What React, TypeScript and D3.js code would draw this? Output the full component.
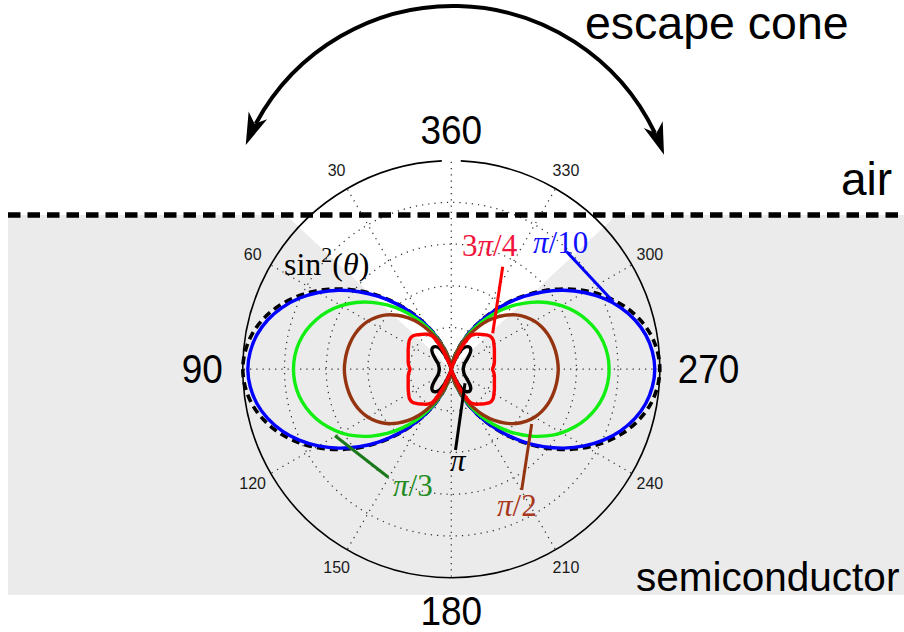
import React from 'react';
import * as d3 from 'd3';

// Polar angle (degrees from the 360 direction) at which one quadrant of every pattern is sampled.
// Each emission pattern is symmetric about both the vertical and the horizontal axis.
const quadrantAngles = [0, 5, 10, 15, 20, 25, 30, 35, 40, 45, 50, 55, 60, 65, 70, 75, 80, 85, 90];

// Normalised emitted intensity for each case, same sampling as quadrantAngles.
const sinSquared = [0, 0.008, 0.030, 0.067, 0.117, 0.179, 0.250, 0.329, 0.413, 0.500, 0.587, 0.671, 0.750, 0.821, 0.883, 0.933, 0.970, 0.992, 1.000];
const piOver10 = [0, 0.008, 0.030, 0.067, 0.117, 0.178, 0.249, 0.326, 0.409, 0.494, 0.578, 0.660, 0.736, 0.805, 0.864, 0.912, 0.947, 0.968, 0.976];
const piOver3 = [0, 0.008, 0.030, 0.066, 0.113, 0.170, 0.234, 0.301, 0.369, 0.436, 0.499, 0.558, 0.610, 0.654, 0.691, 0.720, 0.741, 0.753, 0.757];
const piOver2 = [0, 0.008, 0.030, 0.064, 0.109, 0.160, 0.212, 0.270, 0.321, 0.366, 0.405, 0.436, 0.461, 0.479, 0.492, 0.501, 0.507, 0.511, 0.513];
const threePiOver4 = [0, 0, 0.002, 0.008, 0.030, 0.110, 0.185, 0.205, 0.218, 0.233, 0.245, 0.245, 0.236, 0.228, 0.220, 0.214, 0.210, 0.205, 0.198];
const piPhase = [0, 0, 0.002, 0.008, 0.030, 0.080, 0.118, 0.132, 0.137, 0.132, 0.117, 0.098, 0.083, 0.072, 0.066, 0.062, 0.060, 0.058, 0.057];

// Polar grid
const radialTicks = [0.2, 0.4, 0.6, 0.8];
const angleTicks = [0, 30, 60, 90, 120, 150, 180, 210, 240, 270, 300, 330];
const angleTickLabels = ['360', '30', '60', '90', '120', '150', '180', '210', '240', '270', '300', '330'];
const majorAngles = [0, 90, 180, 270];

// Half-angle of the escape cone (degrees from the surface normal)
const coneHalfAngle = 47;

const W = 904;
const H = 632;
const cx = 451.3;
const cy = 369.2;
const R = 208.5;
const interfaceY = 215;
const sans = "'Liberation Sans', Arial, Helvetica, sans-serif";
const serif = "'Liberation Serif', 'Times New Roman', serif";

const rScale = d3.scaleLinear().domain([0, 1]).range([0, R]);

type Pt = [number, number];

// Unfold a sampled quadrant into the full 0..360 pattern.
function fullPattern(q: number[]): Pt[] {
  const pts: Pt[] = [];
  const n = quadrantAngles.length;
  for (let i = 0; i < n; i++) pts.push([quadrantAngles[i], q[i]]);
  for (let i = n - 2; i >= 0; i--) pts.push([180 - quadrantAngles[i], q[i]]);
  for (let i = 1; i < n; i++) pts.push([180 + quadrantAngles[i], q[i]]);
  for (let i = n - 2; i >= 1; i--) pts.push([360 - quadrantAngles[i], q[i]]);
  return pts;
}

// Angles run counter-clockwise from the top of the plot.
const radialLine = d3
  .lineRadial<Pt>()
  .angle((d) => (-d[0] * Math.PI) / 180)
  .radius((d) => rScale(d[1]))
  .curve(d3.curveCatmullRomClosed.alpha(0.5));

function polar(deg: number, radius: number): Pt {
  const a = (deg * Math.PI) / 180;
  return [cx - radius * Math.sin(a), cy - radius * Math.cos(a)];
}

const series = [
  { key: 'sin2', values: sinSquared, color: '#000000', dash: '8 5' },
  { key: 'pi10', values: piOver10, color: '#0000ff', dash: undefined },
  { key: 'pi3', values: piOver3, color: '#11ee11', dash: undefined },
  { key: 'pi2', values: piOver2, color: '#953410', dash: undefined },
  { key: 'pi', values: piPhase, color: '#000000', dash: undefined },
  { key: '3pi4', values: threePiOver4, color: '#ff0000', dash: undefined },
];

// Arc with arrowheads over the escape cone
const arrowC: Pt = [453, 230];
const arrowR = 224;
const arrowStart = 202.3;
const arrowEnd = 340.4;

function arrowHead(angleDeg: number, dir: 1 | -1) {
  const a = (angleDeg * Math.PI) / 180;
  const tip: Pt = [arrowC[0] + arrowR * Math.cos(a), arrowC[1] + arrowR * Math.sin(a)];
  // tangent pointing away from the arc
  const u: Pt = dir === -1 ? [Math.sin(a), -Math.cos(a)] : [-Math.sin(a), Math.cos(a)];
  const nrm: Pt = [-u[1], u[0]];
  const L = 32;
  const hw = 10;
  const b1: Pt = [tip[0] - L * u[0] + hw * nrm[0], tip[1] - L * u[1] + hw * nrm[1]];
  const b2: Pt = [tip[0] - L * u[0] - hw * nrm[0], tip[1] - L * u[1] - hw * nrm[1]];
  const notch: Pt = [tip[0] - 0.72 * L * u[0], tip[1] - 0.72 * L * u[1]];
  return `M${tip[0]},${tip[1]}L${b1[0]},${b1[1]}L${notch[0]},${notch[1]}L${b2[0]},${b2[1]}Z`;
}

function arcPath() {
  const p = d3.path();
  const a0 = ((arrowStart + 6) * Math.PI) / 180;
  const a1 = ((arrowEnd - 6) * Math.PI) / 180;
  p.moveTo(arrowC[0] + arrowR * Math.cos(a0), arrowC[1] + arrowR * Math.sin(a0));
  p.arc(arrowC[0], arrowC[1], arrowR, a0, a1, false);
  return p.toString();
}

function outerCirclePath() {
  // small break at the top where the 360 label sits
  const gap = 2.6;
  const a0 = ((-90 + gap) * Math.PI) / 180;
  const a1 = ((270 - gap) * Math.PI) / 180;
  const p = d3.path();
  p.moveTo(cx + R * Math.cos(a0), cy + R * Math.sin(a0));
  p.arc(cx, cy, R, a0, a1, false);
  return p.toString();
}

const Stretched: React.FC<{ x: number; y: number; size: number; anchor?: string; children: React.ReactNode; sy?: number }> = ({ x, y, size, anchor = 'start', children, sy = 1.08 }) => (
  <text
    transform={`translate(${x},${y}) scale(1,${sy})`}
    fontFamily={sans}
    fontSize={size}
    textAnchor={anchor as any}
    fill="#000"
  >
    {children}
  </text>
);

export default function App() {
  const coneDx = (cy - interfaceY) * Math.tan((coneHalfAngle * Math.PI) / 180);
  const dotted = { stroke: '#333333', strokeWidth: 1.25, strokeDasharray: '1.25 5', fill: 'none' };

  return (
    <svg
      width={W}
      height={H}
      viewBox={`0 0 ${W} ${H}`}
      style={{ position: 'absolute', left: 0, top: 0, background: '#fff' }}
    >
      {/* semiconductor region with the escape cone left open */}
      <rect x={8} y={interfaceY} width={W - 8} height={595 - interfaceY} fill="#ebebeb" />
      <polygon
        points={`${cx},${cy} ${cx - coneDx},${interfaceY} ${cx + coneDx},${interfaceY}`}
        fill="#ffffff"
      />

      {/* polar grid */}
      <g>
        {radialTicks.map((t) => (
          <circle key={t} cx={cx} cy={cy} r={rScale(t)} {...dotted} />
        ))}
        {angleTicks.map((a) => {
          const [x, y] = polar(a, R);
          return <line key={a} x1={cx} y1={cy} x2={x} y2={y} {...dotted} />;
        })}
        <path d={outerCirclePath()} fill="none" stroke="#000" strokeWidth={1.6} />
      </g>

      {/* angle labels */}
      <g>
        {angleTicks.map((a, i) => {
          if (majorAngles.includes(a)) return null;
          const [x, y] = polar(a, 1.1 * R);
          return (
            <text
              key={a}
              x={x}
              y={y + 5.6}
              fontFamily={sans}
              fontSize={16}
              textAnchor="middle"
              fill="#1a1a1a"
            >
              {angleTickLabels[i]}
            </text>
          );
        })}
        <Stretched x={cx} y={cy - 1.1 * R + 4} size={37} anchor="middle">
          {angleTickLabels[0]}
        </Stretched>
        <Stretched x={cx - 1.1 * R + 1} y={cy + 14} size={37} anchor="end">
          {angleTickLabels[3]}
        </Stretched>
        <Stretched x={cx} y={cy + 1.1 * R + 26} size={37} anchor="middle">
          {angleTickLabels[6]}
        </Stretched>
        <Stretched x={cx + 1.1 * R - 3} y={cy + 14} size={37} anchor="start">
          {angleTickLabels[9]}
        </Stretched>
      </g>

      {/* emission patterns */}
      <g transform={`translate(${cx},${cy})`}>
        {series.map((s) => (
          <path
            key={s.key}
            d={radialLine(fullPattern(s.values)) || ''}
            fill="none"
            stroke={s.color}
            strokeWidth={s.dash ? 3.6 : 3.4}
            strokeDasharray={s.dash}
            strokeLinejoin="round"
          />
        ))}
      </g>

      {/* air / semiconductor interface */}
      <line x1={8} y1={interfaceY} x2={W} y2={interfaceY} stroke="#000" strokeWidth={5.5} strokeDasharray="12.5 7" />

      {/* escape cone arrow */}
      <path d={arcPath()} fill="none" stroke="#000" strokeWidth={4} />
      <path d={arrowHead(arrowStart, -1)} fill="#000" />
      <path d={arrowHead(arrowEnd, 1)} fill="#000" />

      <text x={585} y={39} fontFamily={sans} fontSize={46.5} fill="#000">escape cone</text>
      <text x={841} y={195} fontFamily={sans} fontSize={46} fill="#000">air</text>
      <text x={636} y={591} fontFamily={sans} fontSize={40.5} fill="#000">semiconductor</text>

      {/* curve annotations */}
      <g strokeWidth={3} fill="none">
        <line x1={566.7} y1={251.7} x2={613.3} y2={301.7} stroke="#0000ff" />
        <line x1={502.7} y1={266.7} x2={492.7} y2={333.3} stroke="#ff0000" />
        <line x1={335} y1={435.7} x2={388.3} y2={477.3} stroke="#1a7a1a" />
        <line x1={531.7} y1={424} x2={521.7} y2={490} stroke="#953410" />
        <line x1={465} y1={383.3} x2={455.5} y2={450} stroke="#000000" />
      </g>
      <g fontFamily={serif} fontSize={31}>
        <text x={533} y={253} fill="#1010ff">
          <tspan fontStyle="italic">π</tspan>/10
        </text>
        <text x={462} y={256} fill="#f0143c">
          3<tspan fontStyle="italic">π</tspan>/4
        </text>
        <text x={284} y={275} fill="#000" fontSize={32}>
          sin<tspan dy={-13} fontSize={22}>2</tspan>
          <tspan dy={13}>(</tspan>
          <tspan fontStyle="italic">θ</tspan>)
        </text>
        <text x={393} y={496} fill="#228b22">
          <tspan fontStyle="italic">π</tspan>/3
        </text>
        <text x={497} y={516} fill="#a8361a">
          <tspan fontStyle="italic">π</tspan>/2
        </text>
        <text x={450} y={471} fill="#000">
          <tspan fontStyle="italic">π</tspan>
        </text>
      </g>
    </svg>
  );
}
